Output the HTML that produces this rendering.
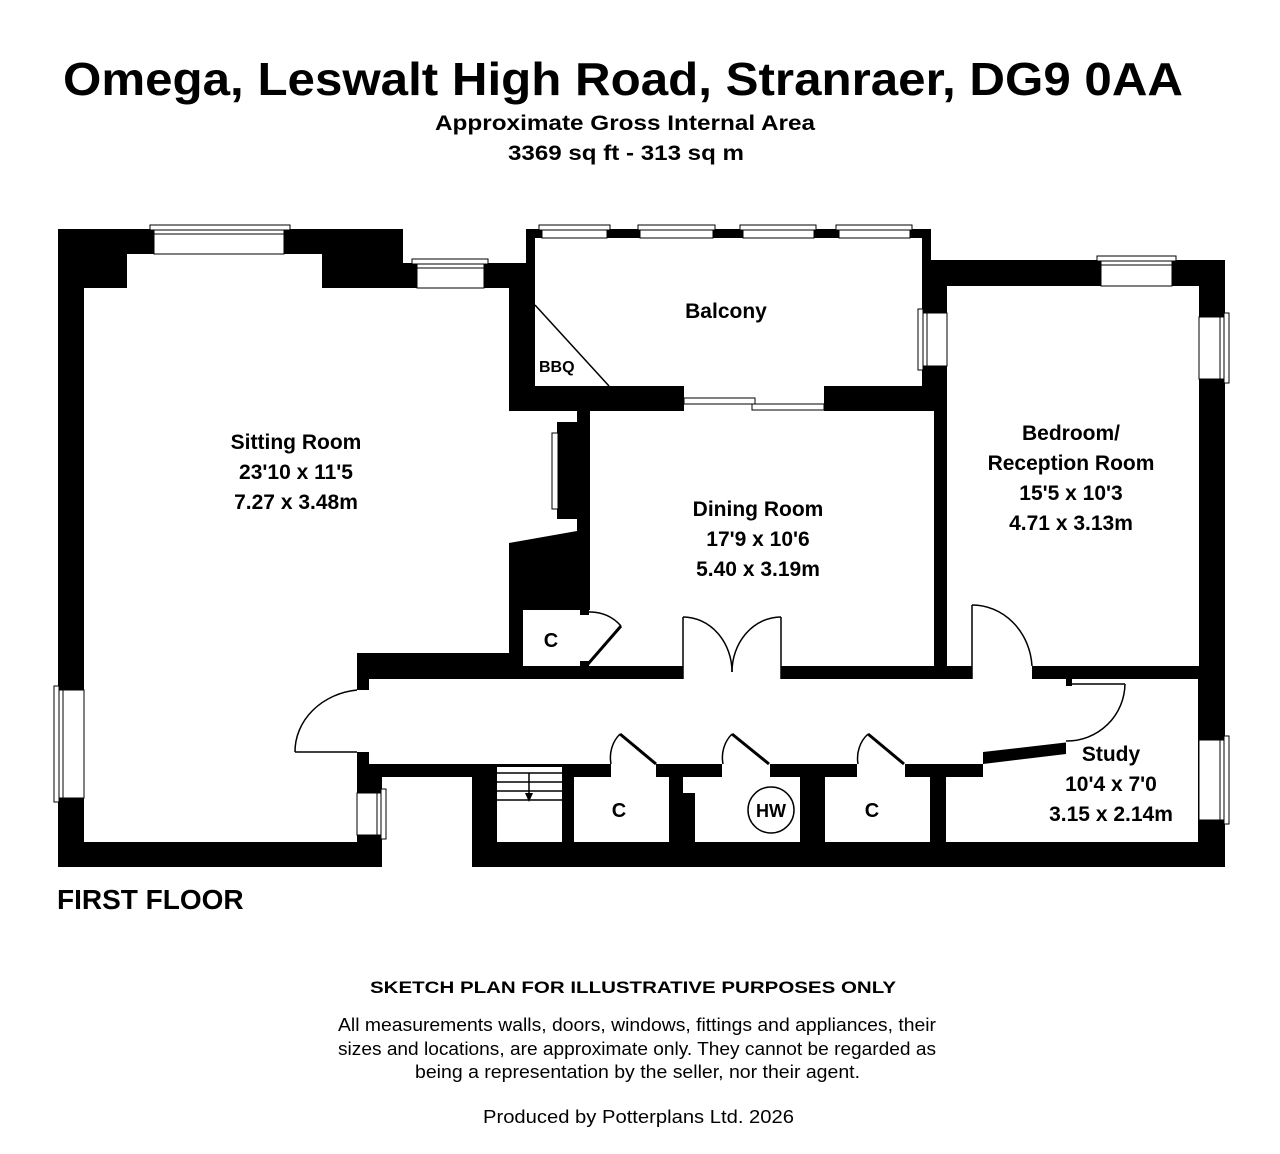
<!DOCTYPE html>
<html><head><meta charset="utf-8"><style>
html,body{margin:0;padding:0;background:#fff;}
svg{display:block;}
.t{font-family:"Liberation Sans",Arial,sans-serif;font-weight:bold;fill:#000;}
.r{font-family:"Liberation Sans",Arial,sans-serif;fill:#000;}
</style></head><body>
<svg width="1280" height="1154" viewBox="0 0 1280 1154" xmlns="http://www.w3.org/2000/svg">
<rect width="1280" height="1154" fill="#fff"/>
<text class="t" x="63" y="95" font-size="46" textLength="1120" lengthAdjust="spacingAndGlyphs">Omega, Leswalt High Road, Stranraer, DG9 0AA</text>
<text class="t" x="435" y="130" font-size="21" textLength="380" lengthAdjust="spacingAndGlyphs">Approximate Gross Internal Area</text>
<text class="t" x="508" y="160" font-size="21" textLength="236" lengthAdjust="spacingAndGlyphs">3369 sq ft - 313 sq m</text>

<polygon fill="#000" points="58,229 403,229 403,263 526,263 526,229 931,229 931,260 1225,260 1225,867 472,867 472,777 382,777 382,867 58,867"/>

<g fill="#fff">
<polygon points="84,288 127,288 127,254 322,254 322,288 509,288 509,411 577,411 577,531 509,543 509,653 357,653 357,842 84,842"/>
<rect x="535" y="238" width="387" height="148"/>
<rect x="590" y="411" width="344" height="255"/>
<rect x="947" y="286" width="252" height="380"/>
<rect x="523" y="610" width="67" height="56"/>
<polygon points="369,679 1070,679 1070,742 983,752 983,764 369,764"/>
<rect x="357" y="690" width="14" height="62"/>
<rect x="683" y="660" width="98" height="22"/>
<rect x="972" y="660" width="60" height="22"/>
<polygon points="1066,679 1198,679 1198,842 946,842 946,777 983,777 983,764 1066,754"/>
<rect x="497" y="767" width="65" height="75"/>
<rect x="574" y="777" width="95" height="65"/>
<polygon points="683,777 800,777 800,842 695,842 695,793 683,793"/>
<rect x="825" y="777" width="105" height="65"/>
<rect x="611" y="760" width="45" height="18"/>
<rect x="722" y="760" width="48" height="18"/>
<rect x="857" y="760" width="48" height="18"/>
<rect x="684" y="385" width="140" height="27"/>
</g>
<rect x="557" y="422" width="20" height="97" fill="#000"/>
<rect x="552" y="433" width="6" height="76" fill="#fff" stroke="#000" stroke-width="1"/>
<rect x="580" y="610" width="9" height="5" fill="#000"/>
<rect x="580" y="661" width="9" height="5" fill="#000"/>
<rect x="1066" y="679" width="6" height="7" fill="#000"/>

<g fill="#fff" stroke="#000" stroke-width="1">
<rect x="154" y="229" width="130" height="25"/><rect x="150" y="225" width="140" height="5"/><line x1="154" y1="234" x2="284" y2="234"/>
<rect x="417" y="263" width="67" height="25"/><rect x="412" y="259" width="76" height="5"/><line x1="417" y1="268" x2="484" y2="268"/>
<rect x="542" y="229" width="65" height="9"/><rect x="539" y="225" width="71" height="5"/>
<rect x="640" y="229" width="73" height="9"/><rect x="638" y="225" width="77" height="5"/>
<rect x="743" y="229" width="71" height="9"/><rect x="740" y="225" width="76" height="5"/>
<rect x="839" y="229" width="71" height="9"/><rect x="836" y="225" width="76" height="5"/>
<rect x="1101" y="260" width="71" height="26"/><rect x="1097" y="256" width="79" height="5"/><line x1="1101" y1="265" x2="1172" y2="265"/>
<rect x="922" y="313" width="25" height="53"/><rect x="918" y="309" width="5" height="61"/><line x1="927" y1="313" x2="927" y2="366"/>
<rect x="1199" y="317" width="26" height="62"/><rect x="1224" y="313" width="5" height="70"/><line x1="1220" y1="317" x2="1220" y2="379"/>
<rect x="58" y="690" width="26" height="108"/><rect x="54" y="686" width="5" height="116"/><line x1="63" y1="690" x2="63" y2="798"/>
<rect x="357" y="793" width="25" height="42"/><rect x="381" y="789" width="5" height="50"/><line x1="377" y1="793" x2="377" y2="835"/>
<rect x="1199" y="740" width="26" height="80"/><rect x="1224" y="736" width="5" height="88"/><line x1="1220" y1="740" x2="1220" y2="820"/>
<rect x="684" y="398" width="71" height="6"/><rect x="752" y="404" width="72" height="6"/>
</g>

<g fill="none" stroke="#000" stroke-width="1.5">
<line x1="535" y1="305" x2="609" y2="386"/>
<line x1="588" y1="664" x2="621" y2="626" stroke-width="3"/>
<path d="M621,626 A40,40 0 0 0 589,612"/>
<line x1="683" y1="679" x2="683" y2="617"/><line x1="781" y1="679" x2="781" y2="617"/>
<path d="M683,617 A49,55 0 0 1 732,672"/><path d="M781,617 A49,55 0 0 0 732,672"/>
<line x1="972" y1="679" x2="972" y2="605"/>
<path d="M972,605 A60,65 0 0 1 1032,666"/>
<line x1="295" y1="752" x2="357" y2="752"/>
<path d="M295,752 A70,62 0 0 1 357,690"/>
<line x1="1070" y1="684" x2="1125" y2="684"/>
<path d="M1125,684 A58,58 0 0 1 1066,741"/>
<line x1="620" y1="734" x2="656" y2="764" stroke-width="3"/><path d="M620,734 A30,32 0 0 0 611,764"/>
<line x1="732" y1="734" x2="769" y2="764" stroke-width="3"/><path d="M732,734 A30,32 0 0 0 723,764"/>
<line x1="868" y1="734" x2="904" y2="764" stroke-width="3"/><path d="M868,734 A30,32 0 0 0 858,764"/>
<line x1="497" y1="773" x2="562" y2="773"/><line x1="497" y1="782" x2="562" y2="782"/>
<line x1="497" y1="791" x2="562" y2="791"/><line x1="497" y1="800" x2="562" y2="800"/>
<line x1="529" y1="773" x2="529" y2="795"/>
<circle cx="771" cy="810" r="23"/>
</g>
<polygon points="525,793 533,793 529,802" fill="#000"/>

<g class="t" font-size="21" text-anchor="middle">
<text x="296" y="449">Sitting Room</text><text x="296" y="479">23'10 x 11'5</text><text x="296" y="509">7.27 x 3.48m</text>
<text x="726" y="318">Balcony</text>
<text x="758" y="516">Dining Room</text><text x="758" y="546">17'9 x 10'6</text><text x="758" y="576">5.40 x 3.19m</text>
<text x="1071" y="440">Bedroom/</text><text x="1071" y="470">Reception Room</text><text x="1071" y="500">15'5 x 10'3</text><text x="1071" y="530">4.71 x 3.13m</text>
<text x="1111" y="761">Study</text><text x="1111" y="791">10'4 x 7'0</text><text x="1111" y="821">3.15 x 2.14m</text>
<text x="551" y="647" font-size="20">C</text>
<text x="619" y="817" font-size="20">C</text>
<text x="872" y="817" font-size="20">C</text>
<text x="771" y="817" font-size="18">HW</text>
</g>
<text class="t" x="539" y="372" font-size="16">BBQ</text>
<text class="t" x="57" y="909" font-size="28">FIRST FLOOR</text>

<text class="t" x="370" y="993" font-size="17" textLength="526" lengthAdjust="spacingAndGlyphs">SKETCH PLAN FOR ILLUSTRATIVE PURPOSES ONLY</text>
<g class="r" font-size="18">
<text x="338" y="1031" textLength="598" lengthAdjust="spacingAndGlyphs">All measurements walls, doors, windows, fittings and appliances, their</text>
<text x="338" y="1055" textLength="598" lengthAdjust="spacingAndGlyphs">sizes and locations, are approximate only. They cannot be regarded as</text>
<text x="415" y="1078" textLength="445" lengthAdjust="spacingAndGlyphs">being a representation by the seller, nor their agent.</text>
<text x="483" y="1123" textLength="311" lengthAdjust="spacingAndGlyphs">Produced by Potterplans Ltd. 2026</text>
</g>
</svg>
</body></html>
